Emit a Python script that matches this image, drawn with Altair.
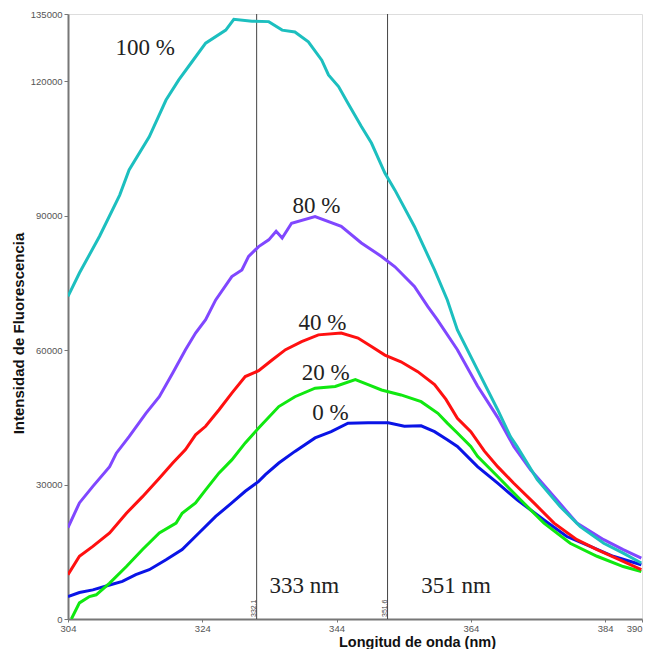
import altair as alt
import pandas as pd

# ---- data ----
nm_100 = [304.0, 305.7, 308.7, 311.7, 313.1, 316.1, 318.6, 320.5, 322.5, 324.5, 327.5, 328.7, 331.4,
          333.9, 335.9, 337.8, 339.8, 341.8, 342.8, 344.3, 345.7, 347.7, 349.2, 351.2, 352.7, 355.6,
          358.6, 360.5, 362.0, 365.0, 368.0, 369.9, 370.9, 373.9, 377.3, 380.3, 383.8, 386.7, 389.4]
val_100 = [72000, 77200, 85400, 94600, 100200, 107600, 115800, 120300, 124400, 128500, 131400, 133800, 133400,
           133300, 131400, 131000, 128800, 124700, 121400, 118800, 115100, 109900, 106200, 99500, 95700, 87600,
           77900, 71200, 64500, 55600, 46700, 40700, 38500, 31100, 25100, 20600, 16900, 14700, 12500]

nm_80 = [304.0, 305.7, 307.7, 310.2, 311.2, 313.1, 315.6, 317.6, 319.6, 321.5, 323.0, 324.5, 326.0, 328.4,
         329.9, 330.9, 332.4, 333.9, 335.0, 335.9, 337.3, 340.8, 344.7, 347.7, 350.7, 352.7, 355.6, 357.6,
         359.0, 362.0, 365.0, 366.5, 368.0, 370.4, 372.9, 376.8, 379.8, 383.8, 386.7, 389.4]
val_80 = [20400, 25900, 29600, 34000, 37000, 40700, 45900, 49600, 54900, 60100, 63800, 66800, 71200, 76400,
          77900, 80900, 83100, 84600, 86500, 85000, 88300, 89800, 87600, 83900, 80900, 78600, 74200, 69700,
          66800, 60100, 52000, 48500, 45000, 38500, 33300, 26600, 21400, 17700, 15500, 13600]

nm_40 = [304.0, 305.7, 307.7, 310.2, 312.7, 315.1, 317.6, 319.6, 321.5, 323.0, 324.5, 326.5, 328.4, 330.4,
         332.4, 334.4, 336.4, 338.8, 341.3, 344.7, 347.2, 349.2, 351.2, 353.6, 356.1, 358.6, 360.3, 362.0,
         364.0, 366.0, 368.0, 370.4, 373.4, 376.4, 379.8, 382.8, 386.2, 389.4]
val_40 = [9900, 14000, 16200, 19200, 23600, 27300, 31400, 34800, 37800, 41100, 43000, 46700, 50400, 54100,
          55400, 57800, 60100, 61900, 63400, 63800, 62700, 60800, 58900, 57400, 55200, 52300, 49000, 44800,
          41800, 37500, 34000, 30300, 25900, 21400, 17700, 15500, 13200, 11000]

nm_20 = [304.5, 305.7, 307.2, 308.2, 310.2, 312.7, 315.1, 317.6, 320.1, 321.0, 323.0, 324.5, 326.5, 328.4,
         330.4, 332.5, 335.4, 337.8, 340.8, 343.8, 346.8, 348.7, 350.7, 353.6, 356.6, 359.1, 360.5, 362.0,
         364.0, 365.0, 368.0, 371.4, 374.9, 378.8, 382.8, 386.7, 389.4]
val_20 = [0, 3600, 5000, 5400, 8000, 11700, 15500, 19200, 21400, 23600, 25900, 28800, 32600, 35500,
          39300, 42800, 47400, 49600, 51500, 51900, 53400, 52300, 51100, 50000, 48500, 45900, 43700, 41500,
          38500, 36300, 31800, 26600, 21400, 16900, 14000, 11700, 10600]

nm_0 = [304.0, 305.7, 307.7, 310.2, 312.1, 314.1, 316.1, 318.6, 321.0, 323.5, 326.0, 328.4, 330.4, 332.4,
        333.4, 335.4, 337.8, 340.8, 343.2, 345.7, 348.7, 351.7, 354.1, 356.6, 358.6, 360.5, 362.0, 365.0,
        368.0, 370.9, 374.9, 378.3, 381.8, 385.2, 389.4]
val_0 = [5000, 5900, 6500, 7600, 8400, 9900, 11000, 13200, 15500, 19200, 22900, 25900, 28500, 30700,
         32200, 34800, 37400, 40400, 41800, 43700, 43800, 43800, 43000, 43100, 41800, 40000, 38500, 34000,
         30300, 26600, 22100, 18400, 16200, 14000, 12100]

series_names = ["0 %", "20 %", "40 %", "80 %", "100 %"]
series_colors = ["#0a14e6", "#10e810", "#ff1010", "#8047ff", "#1cbfbf"]

marker_nm = [332.1, 351.6]
marker_labels = ["332.1", "351.6"]

x_ticks = [304, 324, 344, 364, 384, 389.5]
y_ticks = [0, 30000, 60000, 90000, 120000, 135000]

note_texts = ["100 %", "80 %", "40 %", "20 %", "0 %", "333 nm", "351 nm"]
note_nm = [315.5, 341.0, 341.9, 342.4, 343.1, 339.2, 361.8]
note_val = [125800, 90600, 64500, 53300, 44400, 5800, 5800]

# ---- tables ----
rows = []
for name, xs, ys in [("0 %", nm_0, val_0), ("20 %", nm_20, val_20), ("40 %", nm_40, val_40),
                     ("80 %", nm_80, val_80), ("100 %", nm_100, val_100)]:
    for x, y in zip(xs, ys):
        rows.append({"serie": name, "nm": x, "val": y})
df = pd.DataFrame(rows)
df_mark = pd.DataFrame({"nm": marker_nm, "label": marker_labels})
df_note = pd.DataFrame({"text": note_texts, "nm": note_nm, "val": note_val})

xscale = alt.Scale(domain=[304, 389.5], nice=False, zero=False)
yscale = alt.Scale(domain=[0, 135000], nice=False)

x_axis = alt.Axis(values=x_ticks, format="d", title="Longitud de onda (nm)", grid=False,
                  labelExpr="datum.value > 389 ? '390' : datum.label",
                  labelAlign={"condition": {"test": "datum.value > 389", "value": "right"}, "value": "center"},
                  labelFont="Liberation Sans", labelFontSize=9.5, labelColor="#555", labelFlush=False,
                  labelOverlap=False, labelPadding=1,
                  tickColor="#777", tickSize=3, domainColor="#777", domainWidth=2,
                  titleFont="Liberation Sans", titleFontSize=14.5, titleFontWeight="bold", titleColor="#111",
                  titleX=349, titleY=27, titleAlign="center", titleBaseline="alphabetic")
y_axis = alt.Axis(values=y_ticks, format="d", title="Intensidad de Fluorescencia", grid=False,
                  labelFont="Liberation Sans", labelFontSize=9.5, labelColor="#555", labelFlush=False,
                  labelOverlap=False, labelPadding=2,
                  tickColor="#777", tickSize=4, domainColor="#777", domainWidth=2,
                  titleFont="Liberation Sans", titleFontSize=15, titleFontWeight="bold", titleColor="#111",
                  titleX=-50, titleY=319, titleAngle=270, titleAlign="center", titleBaseline="middle")

base_x = alt.X("nm:Q", scale=xscale, axis=x_axis)

rules = alt.Chart(df_mark).mark_rule(color="#444", strokeWidth=1).encode(x=base_x)

lines = alt.Chart(df).mark_line(strokeWidth=3, clip=True).encode(
    x=base_x,
    y=alt.Y("val:Q", scale=yscale, axis=y_axis),
    color=alt.Color("serie:N", scale=alt.Scale(domain=series_names, range=series_colors), legend=None),
)

mark_text = alt.Chart(df_mark).mark_text(angle=270, align="left", baseline="bottom", fontSize=7,
                                         font="Liberation Sans", color="#444").encode(
    x=base_x, y=alt.value(603), text="label:N")

notes = alt.Chart(df_note).mark_text(font="Liberation Serif", fontSize=23, color="#222",
                                     align="center", baseline="alphabetic").encode(
    x=base_x, y=alt.Y("val:Q", scale=yscale, axis=y_axis), text="text:N")

chart = alt.layer(rules, lines, mark_text, notes).properties(
    width=574, height=605,
    autosize=alt.AutoSizeParams(type="none"),
    padding={"left": 60, "top": 6, "right": 1, "bottom": 30},
).configure_view(stroke="#333", strokeWidth=2).configure(background="white")

chart.save("out.html", embed_options={"renderer": "svg", "actions": False})
